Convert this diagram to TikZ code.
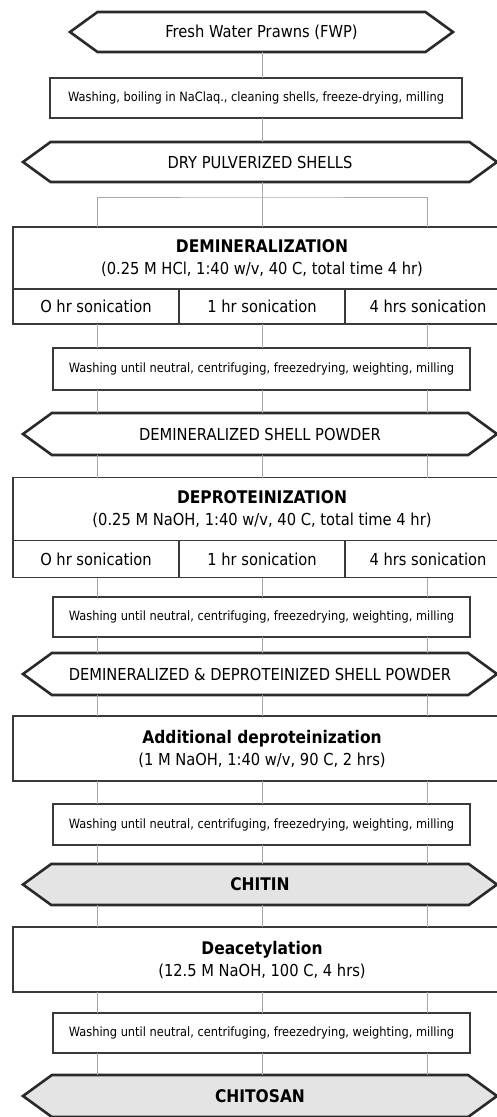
\documentclass[tikz,border=0pt]{standalone}
\usepackage{fontspec}
\setmainfont{DejaVu Sans}[FakeStretch=0.89]
\usepackage{tikz}
\usetikzlibrary{shapes.symbols, positioning}
\definecolor{boxline}{HTML}{3A3A3A}
\definecolor{hexline}{HTML}{2A2A2A}
\definecolor{linkgray}{HTML}{A8A8A8}
\definecolor{productfill}{HTML}{E4E4E4}
\newcommand{\normalsz}{\fontsize{16.5}{22}\selectfont}
\newcommand{\boldsz}{\fontsize{17.4}{22}\selectfont\bfseries}

\begin{document}
\begin{tikzpicture}[
    x=1pt, y=-1pt,
    link/.style={draw=linkgray, line width=0.9pt},
    stepbox/.style={rectangle, draw=boxline, line width=1.5pt, inner sep=0pt, outer sep=0pt, minimum width=498pt, align=center, font=\normalsz},
    rowbox/.style={rectangle, draw=boxline, line width=1.5pt, inner sep=0pt, outer sep=0pt, minimum width=166pt, font=\normalsz},
    washbox/.style={rectangle, draw=boxline, line width=1.2pt, inner sep=0pt, outer sep=0pt, minimum width=417pt, minimum height=41pt, font=\fontsize{12.8}{14}\selectfont},
    hexbox/.style={signal, signal to=east and west, signal pointer angle=72, draw=hexline, line width=2.6pt, inner sep=0pt, outer sep=0pt, minimum width=474pt, minimum height=42pt, font=\normalsz},
    product/.style={hexbox, fill=productfill, font=\boldsz},
]

\useasboundingbox (0,0) rectangle (497,1117);

% Columns of the three sonication lines
\coordinate (colA) at (97,0);
\coordinate (colB) at (262,0);
\coordinate (colC) at (427,0);
\coordinate (fork) at (262,197);

% Raw material and preparation
\node[hexbox, minimum width=383pt, minimum height=40pt] (fwp) at (261.5, 32) {Fresh Water Prawns (FWP)};
\node[washbox, minimum width=412pt, minimum height=40pt] (prep) at (256, 98) {Washing, boiling in NaClaq., cleaning shells, freeze-drying, milling};
\node[hexbox, minimum height=40pt] (dry) at (260, 162) {DRY PULVERIZED SHELLS};

% Demineralization
\node[stepbox, minimum height=62pt] (demin) at (262, 258) {{\boldsz DEMINERALIZATION}\\(0.25 M HCl, 1:40 w/v, 40 C, total time 4 hr)};
\node[rowbox, minimum height=35pt, anchor=north west] (demin0) at (demin.south west) {O hr sonication};
\node[rowbox, minimum height=35pt, right=0pt of demin0] (demin1) {1 hr sonication};
\node[rowbox, minimum height=35pt, right=0pt of demin1] (demin2) {4 hrs sonication};

\node[washbox, minimum height=42pt] (wash1) at (261.5, 369) {Washing until neutral, centrifuging, freezedrying, weighting, milling};
\node[hexbox] (dsp) at (260, 434) {DEMINERALIZED SHELL POWDER};

% Deproteinization
\node[stepbox, minimum height=63pt] (deprot) at (262, 509) {{\boldsz DEPROTEINIZATION}\\(0.25 M NaOH, 1:40 w/v, 40 C, total time 4 hr)};
\node[rowbox, minimum height=37pt, anchor=north west] (deprot0) at (deprot.south west) {O hr sonication};
\node[rowbox, minimum height=37pt, right=0pt of deprot0] (deprot1) {1 hr sonication};
\node[rowbox, minimum height=37pt, right=0pt of deprot1] (deprot2) {4 hrs sonication};

\node[washbox, minimum height=40pt] (wash2) at (261.5, 617) {Washing until neutral, centrifuging, freezedrying, weighting, milling};
\node[hexbox] (ddsp) at (260, 674) {DEMINERALIZED \& DEPROTEINIZED SHELL POWDER};

% Additional deproteinization
\node[stepbox, minimum height=65pt] (adddep) at (262, 748.5) {{\boldsz Additional deproteinization}\\(1 M NaOH, 1:40 w/v, 90 C, 2 hrs)};
\node[washbox] (wash3) at (261.5, 824.5) {Washing until neutral, centrifuging, freezedrying, weighting, milling};
\node[product, minimum height=41pt] (chitin) at (260, 884.5) {CHITIN};

% Deacetylation
\node[stepbox, minimum height=65pt] (deac) at (262, 959.5) {{\boldsz Deacetylation}\\(12.5 M NaOH, 100 C, 4 hrs)};
\node[washbox, minimum height=40pt] (wash4) at (261.5, 1033) {Washing until neutral, centrifuging, freezedrying, weighting, milling};
\node[product] (chitosan) at (260, 1096) {CHITOSAN};

% Single connectors at the top
\draw[link] (fwp.south -| colB) -- (prep.north -| colB);
\draw[link] (prep.south -| colB) -- (dry.north -| colB);
\draw[link] (dry.south -| colB) -- (demin.north -| colB);
\draw[link] (demin.north -| colA) |- (fork) -| (demin.north -| colC);

% Three parallel connectors
\foreach \a/\b in {demin0/wash1, wash1/dsp, dsp/deprot, deprot0/wash2, wash2/ddsp, ddsp/adddep, adddep/wash3, wash3/chitin, chitin/deac, deac/wash4, wash4/chitosan}
  \foreach \c in {colA, colB, colC}
    \draw[link] (\a.south -| \c) -- (\b.north -| \c);

\end{tikzpicture}
\end{document}
